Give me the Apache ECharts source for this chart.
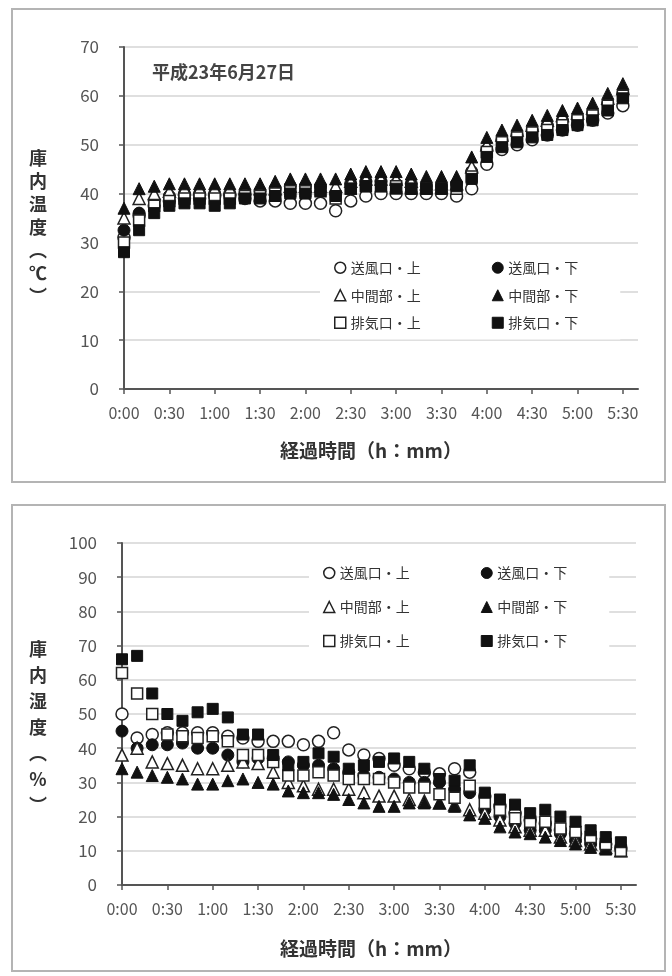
<!DOCTYPE html>
<html>
<head>
<meta charset="utf-8">
<script src="https://cdn.jsdelivr.net/npm/echarts@6/dist/echarts.min.js"></script>
<style>
  html, body { margin: 0; padding: 0; background: #fff; }
  #chart { width: 672px; height: 976px; }
</style>
</head>
<body>
<div id="chart"></div>
<script>
// 経過時間 (10分ごと)
var times = ['0:00','0:10','0:20','0:30','0:40','0:50','1:00','1:10','1:20','1:30','1:40','1:50',
  '2:00','2:10','2:20','2:30','2:40','2:50','3:00','3:10','3:20','3:30','3:40','3:50',
  '4:00','4:10','4:20','4:30','4:40','4:50','5:00','5:10','5:20','5:30'];

var seriesNames = ['送風口・上','送風口・下','中間部・上','中間部・下','排気口・上','排気口・下'];

// 庫内温度 (℃)
var tempAirUp   = [31,35.5,37.5,38.5,39,39,39.5,39.5,39,38.5,38.5,38,38,38,36.5,38.5,39.5,40,40,40,40,40,39.5,41,46,49,50,51,52,53,54,55,56.5,58];
var tempAirDown = [32.5,36,38.5,39.5,40,40,40,40,40,40.5,41,41.5,41.5,41.5,40,42,42.5,42.5,42,42,41.5,41.5,42,44.5,49,51,52,53,54,55,55.5,56.5,58.5,60.5];
var tempMidUp   = [35,39,40,40.5,41,41,41,41,41,41,41,41.5,41.5,41.5,41.5,42.5,43,43,43,42.5,42,42,42,45.5,50,52,53,54,55,56,56.5,57.5,59.5,61.5];
var tempMidDown = [37,41,41.5,42,42,42,42,42,42,42,42.5,43,43,43,43,44,44.5,44.5,44.5,44,43.5,43.5,43.5,47.5,51.5,53,54,55,56,57,57.5,58.5,60.5,62.5];
var tempExhUp   = [30,34.5,37.5,38.5,39,39,39,39,39.5,39.5,40,40.5,40.5,40.5,39,41,41.5,41.5,41.5,41,41,41,41,43.5,48.5,50.5,51.5,52.5,53,54,55,56,58,60];
var tempExhDown = [28,32.5,36,37.5,38,38,37.5,38,39,39,39.5,40,40,40.5,39.5,41,41.5,41.5,41,41,41,41,41.5,43,47.5,49.5,50.5,51.5,52,53,54,55,57,59.5];

// 庫内湿度 (%)
var humAirUp   = [50,43,44,44.5,44.5,44.5,44.5,43.5,43,42,42,42,41,42,44.5,39.5,38,37,35,34,33,32.5,34,33,26,23,21,19,18,16,15,13.5,12,10.5];
var humAirDown = [45,40,41,41,41.5,40,40,38,36,37,37,36,35,35,34,33,32,31.5,31,30,30,30,28,27,22,20,18,16,16,15,13,12,11,11];
var humMidUp   = [38,40,36,35.5,35,34,34,35,36,35.5,33,30,29,28,28,28,27,26,26,25,24.5,24,23.5,22,21,19,17,16,16,14,13,12,11,10];
var humMidDown = [34,33,32,31.5,31,29.5,29.5,30.5,31,30,29.5,27.5,27,27,26.5,25,24,23,23,24,24,24,23,20.5,19.5,17,15.5,15,14,13,12,11,10.5,10];
var humExhUp   = [62,56,50,44,43.5,43,43.5,42,38,38,36,32,32,33,32,31,31,31,30,28.5,28.5,26.5,25.5,29,24,22,19.5,18.5,18.5,16.5,15.5,14,12,10];
var humExhDown = [66,67,56,50,48,50.5,51.5,49,44,44,38,35,36,38.5,37.5,34,35,36,37,36,34,31,30.5,35,27,25,23.5,21,22,20,18.5,16,14,12.5];

var FONT = '"Noto Sans CJK JP", "Noto Sans", sans-serif';
var symbols = ['circle','circle','triangle','triangle','rect','rect'];
var filled  = [false, true, false, true, false, true];

var chart = echarts.init(document.getElementById('chart'));

function markerStyle(i) {
  return filled[i]
    ? { color: '#111', borderColor: '#111', borderWidth: 1, opacity: 1 }
    : { color: '#fff', borderColor: '#222', borderWidth: 1.5, opacity: 1 };
}

function makeSeries(dataList, axisIdx) {
  return dataList.map(function (d, i) {
    return {
      name: seriesNames[i],
      type: 'scatter',
      xAxisIndex: axisIdx,
      yAxisIndex: axisIdx,
      data: d,
      symbol: symbols[i],
      symbolSize: symbols[i] === 'rect' ? 11 : 12,
      itemStyle: markerStyle(i),
      z: 2 + i
    };
  });
}

function makeXAxis(gi) {
  return {
    type: 'category',
    gridIndex: gi,
    data: times.concat(['']),
    boundaryGap: false,
    axisLine: { lineStyle: { color: '#555', width: 2 } },
    axisTick: { show: true, interval: 2, length: 5, lineStyle: { color: '#555', width: 1.5 } },
    axisLabel: { interval: 2, margin: 16, color: '#555', fontSize: 16, fontFamily: FONT },
    splitLine: { show: false }
  };
}

function makeYAxis(gi, max) {
  return {
    type: 'value',
    gridIndex: gi,
    min: 0, max: max, interval: 10,
    axisLine: { show: true, lineStyle: { color: '#555', width: 2 } },
    axisTick: { show: true, length: 5, lineStyle: { color: '#555', width: 1.5 } },
    axisLabel: { margin: 25, color: '#555', fontSize: 17, fontFamily: FONT },
    splitLine: { lineStyle: { color: '#d4d4d4', width: 1.5 } }
  };
}

function makeLegend(top, left, rowH, gap) {
  return {
    orient: 'horizontal',
    top: top, left: left, width: 300,
    itemWidth: 11, itemHeight: 11, itemGap: gap,
    backgroundColor: '#fff',
    padding: [8, 12, 8, 14],
    data: seriesNames.map(function (n, i) {
      return { name: n, itemStyle: markerStyle(i), textStyle: { width: i % 2 === 0 ? 157 - 16 - gap : 100 } };
    }),
    textStyle: { fontSize: 14, color: '#333', fontFamily: FONT, lineHeight: rowH }
  };
}

var option = {
  animation: false,
  backgroundColor: '#fff',
  grid: [
    { left: 124, top: 47, width: 514, height: 342 },
    { left: 122, top: 543, width: 514, height: 342 }
  ],
  xAxis: [makeXAxis(0), makeXAxis(1)],
  yAxis: [makeYAxis(0, 70), makeYAxis(1, 100)],
  legend: [
    makeLegend(251, 320, 17.5, 10),
    makeLegend(556, 309, 18, 16)
  ],
  graphic: [
    { type: 'rect', shape: { x: 12, y: 9, width: 653, height: 473 }, style: { fill: 'none', stroke: '#b4b4b4', lineWidth: 2 }, z: 0 },
    { type: 'rect', shape: { x: 12, y: 505, width: 653, height: 466 }, style: { fill: 'none', stroke: '#b4b4b4', lineWidth: 2 }, z: 0 },
    { type: 'text', x: 152, y: 72, style: { text: '平成23年6月27日', font: 'bold 18px ' + FONT, fill: '#444', textVerticalAlign: 'middle' } },
    { type: 'text', x: 38, y: 147, style: { text: '庫\n内\n温\n度\n︵\n℃\n︶', font: 'bold 18px ' + FONT, fill: '#333', textAlign: 'center', lineHeight: 23 } },
    { type: 'text', x: 38, y: 636, style: { text: '庫\n内\n湿\n度\n︵\n%\n︶', font: 'bold 18px ' + FONT, fill: '#333', textAlign: 'center', lineHeight: 26 } },
    { type: 'text', x: 371, y: 451, style: { text: '経過時間（h：mm）', font: 'bold 19px ' + FONT, fill: '#333', textAlign: 'center', textVerticalAlign: 'middle' } },
    { type: 'text', x: 371, y: 949, style: { text: '経過時間（h：mm）', font: 'bold 19px ' + FONT, fill: '#333', textAlign: 'center', textVerticalAlign: 'middle' } }
  ],
  series: makeSeries([tempAirUp, tempAirDown, tempMidUp, tempMidDown, tempExhUp, tempExhDown], 0)
    .concat(makeSeries([humAirUp, humAirDown, humMidUp, humMidDown, humExhUp, humExhDown], 1))
};

chart.setOption(option);
</script>
</body>
</html>
